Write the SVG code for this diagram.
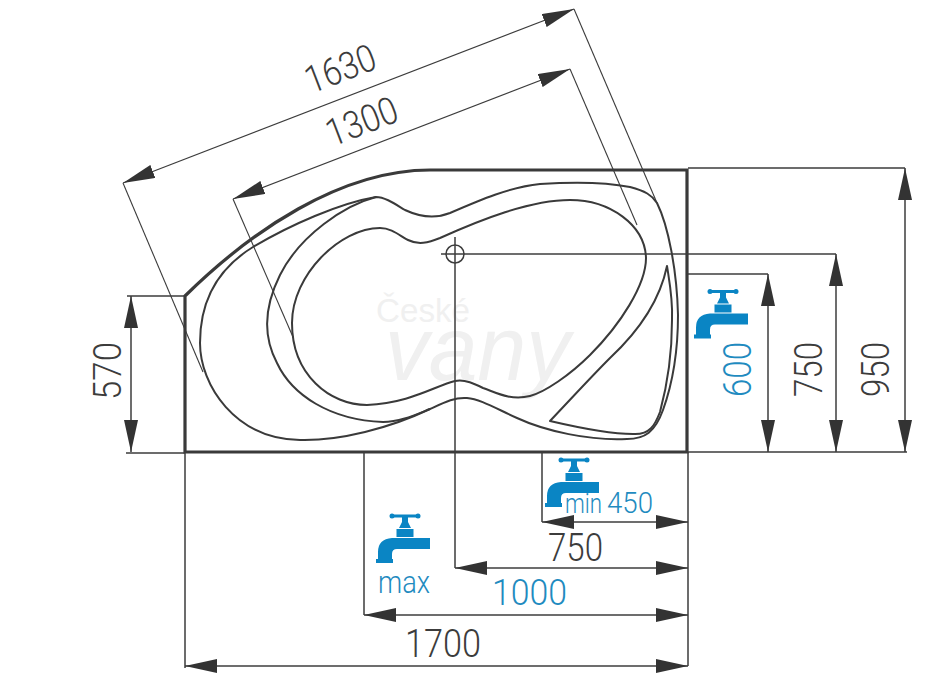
<svg xmlns="http://www.w3.org/2000/svg" xmlns:xlink="http://www.w3.org/1999/xlink" width="950" height="686" viewBox="0 0 950 686">
<style>
.dim{fill:none;stroke:#3c3c3c;stroke-width:1.5}
.thin{fill:none;stroke:#3c3c3c;stroke-width:1.1}
.arr{marker-start:url(#ah);marker-end:url(#ah)}
.tub{fill:none;stroke:#3a3a3a;stroke-width:2;stroke-linejoin:round}
.t{font-family:Roboto,"Liberation Sans",Arial,sans-serif;font-weight:300;font-size:38px;fill:#3c3c3c}
.b{fill:#1f8bc0}
.wm{font-family:"Liberation Sans",Arial,sans-serif;fill:#f0f0f0}
</style>
<defs>
<marker id="ah" markerUnits="userSpaceOnUse" markerWidth="33" markerHeight="14" refX="32" refY="7" orient="auto-start-reverse"><path d="M0,0L32,7L0,14Z" fill="#333"/></marker>
<g id="tap" fill="#0a85c4">
<rect x="-13" y="-1.5" width="26" height="3"/><circle cx="-13" cy="0" r="2.5"/><circle cx="13" cy="0" r="2.5"/>
<path d="M-3,0H3V6L6,12H-6L-3,6Z"/>
<rect x="-8.5" y="13" width="17" height="8"/>
<path d="M25,22H-13Q-27,23-27,36V44H-13V38Q-13,33-8,33H25Z"/>
<rect x="-29" y="43" width="17" height="4"/>
</g>
</defs>
<rect width="950" height="686" fill="#fff"/>
<g id="watermark" class="wm">
<text x="376" y="322" font-size="34" textLength="94" lengthAdjust="spacingAndGlyphs">České</text>
<text x="385" y="380" font-size="90" font-style="italic" textLength="185" lengthAdjust="spacingAndGlyphs">vany</text>
</g>
<g id="bath">
<path d="M185,296C250,232 340,170 430,170H687V452H185Z" fill="none" stroke="#3a3a3a" stroke-width="3.2"/>
<path class="tub" d="M376,197C340,203 290,225 253,247C222,266 200,295 200,343C200,385 235,439 300,440C340,441 390,428 430,409C445,402 455,397 467,398C480,399 495,408 517,418C545,431 590,441 627,439C645,439 655,432 663,410C672,385 678,355 678,315C677,270 668,225 657,203C652,195 645,191 630,187C605,182 570,182 540,184C510,187 480,200 450,213C435,219 420,217 405,210C395,204 385,197 376,197Z"/>
<path class="tub" d="M376,197C345,205 300,235 280,275C265,305 262,335 277,363C292,395 330,420 383,422C400,422 415,415 430,409"/>
<path class="tub" d="M380,228C392,228 400,236 408,240C418,245 428,243 440,238C480,220 530,200 570,200C610,200 645,225 646,258C646,285 620,325 590,355C570,375 545,392 530,396C510,401 495,392 483,388C475,384 465,379 455,381C435,386 410,403 367,405C330,405 292,375 292,323C292,275 340,228 380,228Z"/>
<path class="tub" d="M667,266C660,300 640,330 610,358C590,378 570,400 550,421C580,428 610,434 633,434C650,435 655,425 660,412C670,375 672,345 672,320C673,300 670,285 667,266Z"/>
</g>
<g id="connectors">
<path class="thin" d="M203,372L123,183"/>
<path class="thin arr" d="M123,183L574,9"/>
<path class="thin" d="M574,9L657,203"/>
<path class="thin" d="M293,337L233,199"/>
<path class="thin arr" d="M233,199L570,69"/>
<path class="thin" d="M570,69L637,225"/>
<path class="dim" d="M127,296H185M126,453H185"/>
<path class="dim arr" d="M131,296V452"/>
<path class="dim" d="M688,168H905M688,452H907"/>
<path class="dim arr" d="M905,168V452"/>
<path class="dim" d="M441,254H836"/>
<path class="dim arr" d="M836,254V452"/>
<path class="dim" d="M688,274H768"/>
<path class="dim arr" d="M768,274V452"/>
<circle cx="455" cy="254" r="9" class="dim"/>
<path class="dim" d="M455,237V568M542,452V522M364,452V615M185,452V668M688,452V666"/>
<path class="dim arr" d="M542,522H688"/>
<path class="dim arr" d="M455,568H688"/>
<path class="dim arr" d="M364,615H688"/>
<path class="dim arr" d="M185,666H688"/>
</g>
<g id="taps">
<use xlink:href="#tap" href="#tap" x="723" y="291.5"/>
<use xlink:href="#tap" href="#tap" x="574" y="460"/>
<use xlink:href="#tap" href="#tap" x="405" y="516"/>
</g>
<g id="labels">
<text class="t" transform="translate(311,94) rotate(-21)" textLength="73" lengthAdjust="spacingAndGlyphs">1630</text>
<text class="t" transform="translate(332,147) rotate(-21)" textLength="74" lengthAdjust="spacingAndGlyphs">1300</text>
<text class="t" transform="translate(121,400) rotate(-90)" textLength="58" lengthAdjust="spacingAndGlyphs">570</text>
<text class="t b" transform="translate(751,397) rotate(-90)" textLength="55" lengthAdjust="spacingAndGlyphs">600</text>
<text class="t" transform="translate(822,397) rotate(-90)" textLength="55" lengthAdjust="spacingAndGlyphs">750</text>
<text class="t" transform="translate(889,397) rotate(-90)" textLength="55" lengthAdjust="spacingAndGlyphs">950</text>
<text class="t" x="405" y="657" textLength="76" lengthAdjust="spacingAndGlyphs">1700</text>
<text class="t b" x="492" y="605" style="font-size:36px" textLength="75" lengthAdjust="spacingAndGlyphs">1000</text>
<text class="t" x="548" y="561" textLength="55" lengthAdjust="spacingAndGlyphs">750</text>
<text class="t b" x="607" y="513" style="font-size:30px" textLength="46" lengthAdjust="spacingAndGlyphs">450</text>
<text class="t b" x="565" y="513" style="font-size:27px" textLength="37" lengthAdjust="spacingAndGlyphs">min</text>
<text class="t b" x="378" y="593" style="font-size:32px" textLength="52" lengthAdjust="spacingAndGlyphs">max</text>
</g>
</svg>
